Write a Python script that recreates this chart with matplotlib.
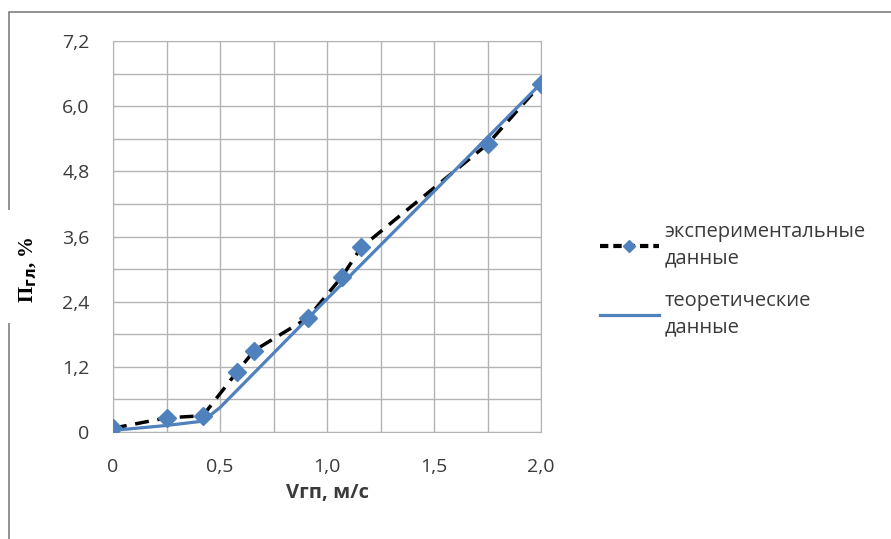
import matplotlib
matplotlib.use('Agg')
import matplotlib.pyplot as plt
from matplotlib.lines import Line2D
from matplotlib.patches import Rectangle
from matplotlib.ticker import MultipleLocator, FuncFormatter

# experimental data
v_exp = [0.0, 0.25, 0.42, 0.58, 0.66, 0.91, 1.07, 1.16, 1.75, 2.0]
p_exp = [0.07, 0.26, 0.30, 1.11, 1.50, 2.10, 2.86, 3.40, 5.30, 6.41]

# theoretical data
v_theor = [0.0, 0.25, 0.42, 0.5, 1.0, 1.5, 2.0]
p_theor = [0.03, 0.12, 0.20, 0.45, 2.45, 4.43, 6.42]

xticks = [0, 0.5, 1.0, 1.5, 2.0]
yticks = [0, 1.2, 2.4, 3.6, 4.8, 6.0, 7.2]

label_exp = 'экспериментальные\nданные'
label_theor = 'теоретические\nданные'

blue = '#4f81bd'
grid_c = '#b4b4b4'
txt_c = '#3a3a3a'

plt.rcParams['font.family'] = ['Open Sans', 'DejaVu Sans']

fig = plt.figure(figsize=(8.91, 5.39), dpi=100)
ax = fig.add_axes([113/891, 1 - 432/539, (541 - 113)/891, (432 - 41)/539])

ax.plot(v_exp, p_exp, color='black', linestyle=(0, (4, 2.5)), linewidth=2.5, zorder=3)
ax.plot(v_theor, p_theor, color=blue, linewidth=2.3, zorder=4)
ax.plot(v_exp, p_exp, linestyle='none', marker='D', markersize=9.5,
        color=blue, markeredgecolor=blue, zorder=5)

ax.set_xlim(0, 2.0)
ax.set_ylim(0, 7.2)
ax.set_xticks(xticks)
ax.set_yticks(yticks)
ax.xaxis.set_minor_locator(MultipleLocator(0.25))
ax.yaxis.set_minor_locator(MultipleLocator(0.6))

def comma(v, pos):
    if v == 0:
        return '0'
    return ('%.1f' % v).replace('.', ',')

ax.xaxis.set_major_formatter(FuncFormatter(comma))
ax.yaxis.set_major_formatter(FuncFormatter(comma))

ax.grid(True, which='both', color=grid_c, linewidth=1)
for s in ax.spines.values():
    s.set_color(grid_c)
ax.tick_params(which='both', length=0, labelsize=14, colors=txt_c)
ax.tick_params(axis='y', pad=17)
ax.tick_params(axis='x', pad=19)

ax.set_xlabel('Vгп, м/с', fontsize=14.5, fontweight='bold', color=txt_c, labelpad=5)

# outer chart frame
fig.add_artist(Rectangle((9/891, -0.1), 1.2, 1 - 12/539 + 0.1,
                         transform=fig.transFigure, fill=False,
                         edgecolor='#7f7f7f', linewidth=1.2))
# white patch behind the y label, cutting the frame
fig.add_artist(Rectangle((0, 1 - 323/539), 46/891, 113/539,
                         transform=fig.transFigure, facecolor='white',
                         edgecolor='none', zorder=3))

fig.text(28/891, 1 - 270/539, 'П$_{\\mathbf{гл}}$, %', rotation=90,
         ha='center', va='center', fontsize=15, fontweight='bold',
         family=['Liberation Serif', 'DejaVu Serif'], zorder=4)

handles = [
    Line2D([], [], color='black', linestyle=(0, (2, 1.2)), linewidth=3,
           marker='D', markersize=6, markerfacecolor=blue, markeredgecolor=blue),
    Line2D([], [], color=blue, linewidth=2.3),
]
leg = fig.legend(handles, [label_exp, label_theor], loc='upper left',
                 bbox_to_anchor=(582/891, 1 - 204/539), frameon=False,
                 fontsize=14.5, handlelength=2.9, handletextpad=0.3,
                 labelspacing=1.1, labelcolor=txt_c)
for t in leg.get_texts():
    t.set_linespacing(1.45)

fig.savefig('out.png', dpi=100)
